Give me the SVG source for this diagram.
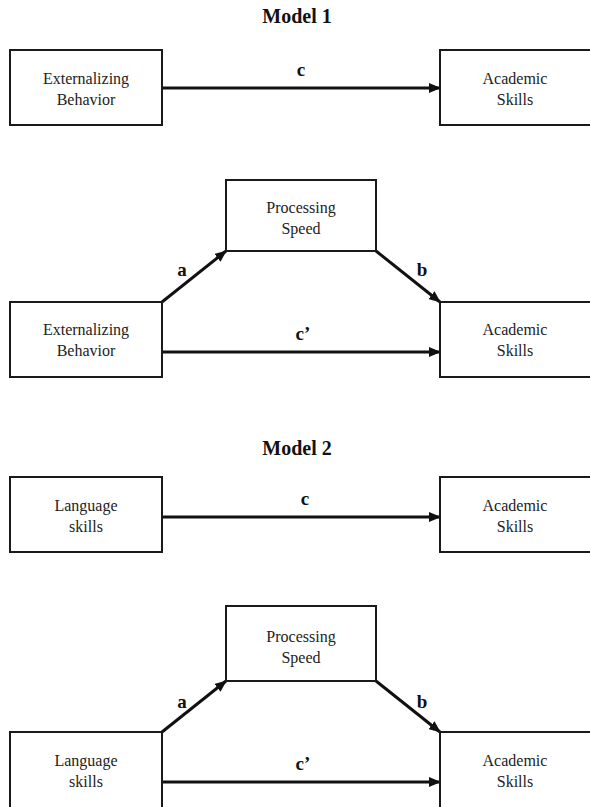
<svg xmlns="http://www.w3.org/2000/svg" width="590" height="807" viewBox="0 0 590 807">
<style>
.box{fill:#fff;stroke:#1a1a1a;stroke-width:2}
.t{font-family:"Liberation Serif","Times New Roman",serif;font-size:16px;fill:#222;text-anchor:middle}
.h{font-family:"Liberation Serif","Times New Roman",serif;font-size:20px;font-weight:bold;fill:#111;text-anchor:middle}
.l{font-family:"Liberation Serif","Times New Roman",serif;font-size:19px;font-weight:bold;fill:#111;text-anchor:middle}
.c{stroke:#111;stroke-width:3;fill:none;marker-end:url(#ah)}
</style>
<defs>
<marker id="ah" markerWidth="12" markerHeight="10" refX="11" refY="5" orient="auto" markerUnits="userSpaceOnUse">
<path d="M0,0 L12,5 L0,10 z" fill="#111"/>
</marker>
</defs>
<rect width="590" height="807" fill="#fff"/>
<text class="h" x="297" y="23">Model 1</text>
<text class="h" x="297" y="455">Model 2</text>

<g id="connectors">
<line class="c" x1="163" y1="88" x2="440" y2="88"/>
<line class="c" x1="162" y1="302" x2="226" y2="251"/>
<line class="c" x1="376" y1="251" x2="440" y2="302"/>
<line class="c" x1="163" y1="352" x2="440" y2="352"/>
<line class="c" x1="163" y1="517" x2="440" y2="517"/>
<line class="c" x1="162" y1="732" x2="226" y2="681"/>
<line class="c" x1="376" y1="681" x2="440" y2="732"/>
<line class="c" x1="163" y1="782" x2="440" y2="782"/>
<text class="l" x="301" y="76">c</text>
<text class="l" x="182" y="276">a</text>
<text class="l" x="422" y="276">b</text>
<text class="l" x="303" y="340">c’</text>
<text class="l" x="305" y="505">c</text>
<text class="l" x="182" y="708">a</text>
<text class="l" x="422" y="708">b</text>
<text class="l" x="303" y="770">c’</text>
</g>

<g id="m1-ext"><rect class="box" x="10" y="50" width="152" height="75"/><text class="t" x="86" y="84">Externalizing</text><text class="t" x="86" y="105">Behavior</text></g>
<g id="m1-acad"><rect class="box" x="440" y="50" width="160" height="75"/><text class="t" x="515" y="84">Academic</text><text class="t" x="515" y="105">Skills</text></g>

<g id="m1b-ps"><rect class="box" x="226" y="180" width="150" height="71"/><text class="t" x="301" y="213">Processing</text><text class="t" x="301" y="234">Speed</text></g>
<g id="m1b-ext"><rect class="box" x="10" y="302" width="152" height="75"/><text class="t" x="86" y="335">Externalizing</text><text class="t" x="86" y="356">Behavior</text></g>
<g id="m1b-acad"><rect class="box" x="440" y="302" width="160" height="75"/><text class="t" x="515" y="335">Academic</text><text class="t" x="515" y="356">Skills</text></g>

<g id="m2-lang"><rect class="box" x="10" y="477" width="152" height="75"/><text class="t" x="86" y="511">Language</text><text class="t" x="86" y="532">skills</text></g>
<g id="m2-acad"><rect class="box" x="440" y="477" width="160" height="75"/><text class="t" x="515" y="511">Academic</text><text class="t" x="515" y="532">Skills</text></g>

<g id="m2b-ps"><rect class="box" x="226" y="606" width="150" height="75"/><text class="t" x="301" y="642">Processing</text><text class="t" x="301" y="663">Speed</text></g>
<g id="m2b-lang"><rect class="box" x="10" y="732" width="152" height="90"/><text class="t" x="86" y="766">Language</text><text class="t" x="86" y="787">skills</text></g>
<g id="m2b-acad"><rect class="box" x="440" y="732" width="160" height="90"/><text class="t" x="515" y="766">Academic</text><text class="t" x="515" y="787">Skills</text></g>
</svg>
